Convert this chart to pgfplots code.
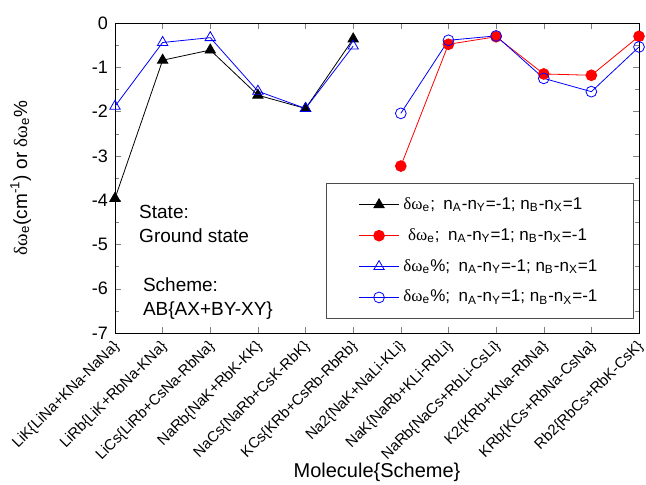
\documentclass[border=0pt]{standalone}
\usepackage{fontspec}
\setmainfont{Liberation Sans}
\newfontfamily\grk{Liberation Serif}
\usepackage{pgfplots}
\pgfplotsset{compat=1.18}
\newcommand{\dw}{{\grk δω}\textsubscript{e}}
\newcommand{\nn}[1]{n\textsubscript{#1}}

\begin{document}
\begin{tikzpicture}
% page = reference frame, axis box sits at (0,0)-(262pt,155pt)
\useasboundingbox (-57.5pt,-75.5pt) rectangle (265.5pt,166.5pt);
\begin{axis}[
    at={(0,0)}, anchor=south west,
    scale only axis,
    width=262pt, height=155pt,
    xmin=0, xmax=11, ymin=-7, ymax=0,
    xtick={0,...,11},
    xticklabels={LiK\{LiNa+KNa-NaNa\}, LiRb\{LiK+RbNa-KNa\}, LiCs\{LiRb+CsNa-RbNa\},
      NaRb\{NaK+RbK-KK\}, NaCs\{NaRb+CsK-RbK\}, KCs\{KRb+CsRb-RbRb\},
      Na2\{NaK+NaLi-KLi\}, NaK\{NaRb+KLi-RbLi\}, NaRb\{NaCs+RbLi-CsLi\},
      K2\{KRb+KNa-RbNa\}, KRb\{KCs+RbNa-CsNa\}, Rb2\{RbCs+RbK-CsK\}},
    xticklabel style={rotate=45, anchor=north east, xshift=-2pt, font=\fontsize{7.5}{8}\selectfont, inner sep=1pt},
    ytick={0,-1,...,-7},
    minor ytick={-0.5,-1.5,...,-6.5},
    yticklabel style={font=\fontsize{9}{10}\selectfont},
    /pgf/number format/assume math mode=true,
    tick align=inside,
    major tick length=3pt, minor tick length=2pt,
    xlabel={Molecule\{Scheme\}},
    xlabel style={font=\fontsize{10}{12}\selectfont, at={(axis description cs:0.5,-0.45)}, anchor=center},
    ylabel={\dw(cm\textsuperscript{-1}) or \dw\%},
    ylabel style={font=\fontsize{9.5}{11}\selectfont, at={(axis description cs:-0.18,0.5)}, anchor=center, rotate=0},
    legend style={at={(0.99,0.484)}, anchor=north east, font=\fontsize{8.5}{10}\selectfont,
      draw=black!70, inner xsep=16pt, inner ysep=5pt, row sep=4pt, cells={anchor=west}},
    legend image code/.code={
      \draw[mark repeat=2, mark phase=2, #1] plot coordinates {(0pt,0pt) (10pt,0pt) (20pt,0pt)};},
]
\addplot[black, thin, mark=triangle*, mark size=3pt, mark options={fill=black}] coordinates {
  (0,-3.96)(1,-0.84)(2,-0.61)(3,-1.63)(4,-1.93)(5,-0.36)};
\addlegendentry{\dw;\enspace \nn{A}-\nn{Y}=-1; \nn{B}-\nn{X}=1}
\addplot[red, thin, mark=*, mark size=2.7pt, mark options={fill=red}] coordinates {
  (6,-3.23)(7,-0.48)(8,-0.31)(9,-1.15)(10,-1.18)(11,-0.30)};
\addlegendentry{\ \dw;\enspace \nn{A}-\nn{Y}=1; \nn{B}-\nn{X}=-1}
\addplot[blue, thin, mark=triangle, mark size=3pt, mark options={fill=white}] coordinates {
  (0,-1.88)(1,-0.44)(2,-0.33)(3,-1.54)(4,-1.93)(5,-0.52)};
\addlegendentry{\dw\%;\enspace \nn{A}-\nn{Y}=-1; \nn{B}-\nn{X}=1}
\addplot[blue, thin, mark=o, mark size=2.7pt, mark options={fill=white}] coordinates {
  (6,-2.04)(7,-0.39)(8,-0.29)(9,-1.25)(10,-1.55)(11,-0.54)};
\addlegendentry{\dw\%;\enspace \nn{A}-\nn{Y}=1; \nn{B}-\nn{X}=-1}
\node[anchor=north west, align=left, font=\fontsize{9.5}{12}\selectfont, inner sep=0pt] at (axis cs:0.5,-4.1) {State:\\Ground state};
\node[anchor=north west, align=left, font=\fontsize{9.5}{12}\selectfont, inner sep=0pt] at (axis cs:0.58,-5.75) {Scheme:\\AB\{AX+BY-XY\}};
\end{axis}
\end{tikzpicture}
\end{document}
